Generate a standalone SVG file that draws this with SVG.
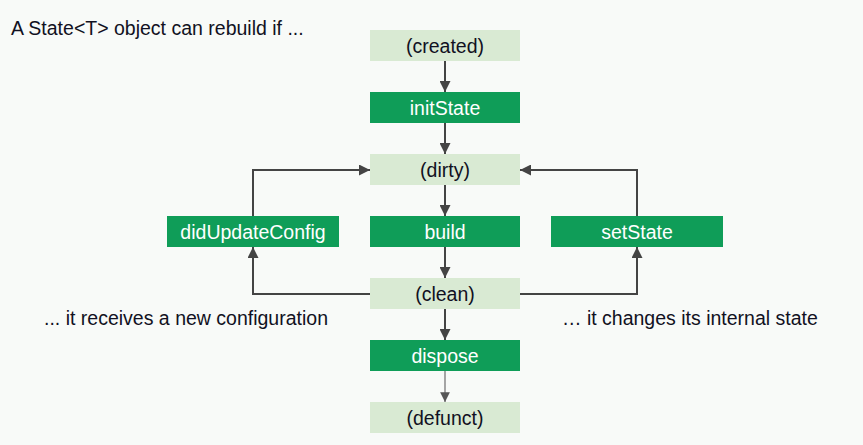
<svg xmlns="http://www.w3.org/2000/svg" width="863" height="445" viewBox="0 0 863 445">
<style>
  .bg { fill: #f8faf8; }
  .state rect { fill: #d9ead3; }
  .state text { fill: #111122; }
  .method rect { fill: #0f9d58; }
  .method text { fill: #ffffff; }
  text { font-family: "Liberation Sans", Arial, sans-serif; font-size: 19.5px; }
  .node text { text-anchor: middle; }
  .conn { fill: none; stroke: #444444; stroke-width: 2; }
  .conn.thin { stroke: #777777; stroke-width: 1.3; }
  .note { fill: #111122; }
</style>
<defs>
  <marker id="arr" viewBox="0 0 10 10" refX="10" refY="5" markerWidth="5.5" markerHeight="5.5" orient="auto" markerUnits="strokeWidth">
    <path d="M0,0 L10,5 L0,10 z" fill="#444444"/>
  </marker>
  <marker id="arrT" viewBox="0 0 10 10" refX="10" refY="5" markerWidth="7.5" markerHeight="7.5" orient="auto" markerUnits="strokeWidth">
    <path d="M0,0 L10,5 L0,10 z" fill="#555555"/>
  </marker>
</defs>
<rect class="bg" x="0" y="0" width="863" height="445"/>

<text class="note" x="11" y="35">A State&lt;T&gt; object can rebuild if ...</text>
<text class="note" x="44" y="325">... it receives a new configuration</text>
<text class="note" x="562" y="325">… it changes its internal state</text>

<g id="connectors">
  <line class="conn" x1="445" y1="61" x2="445" y2="92" marker-end="url(#arr)"/>
  <line class="conn" x1="445" y1="123" x2="445" y2="154" marker-end="url(#arr)"/>
  <line class="conn" x1="445" y1="185" x2="445" y2="216" marker-end="url(#arr)"/>
  <line class="conn" x1="445" y1="247" x2="445" y2="278" marker-end="url(#arr)"/>
  <line class="conn" x1="445" y1="309" x2="445" y2="340" marker-end="url(#arr)"/>
  <line class="conn thin" x1="445" y1="371" x2="445" y2="402" marker-end="url(#arrT)"/>
  <polyline class="conn" points="253,216 253,170 370,170" marker-end="url(#arr)"/>
  <polyline class="conn" points="370,294 253,294 253,247" marker-end="url(#arr)"/>
  <polyline class="conn" points="637,216 637,170 520,170" marker-end="url(#arr)"/>
  <polyline class="conn" points="520,294 637,294 637,247" marker-end="url(#arr)"/>
</g>

<g id="created" class="node state"><rect x="370" y="30" width="150" height="31"/><text x="445" y="53">(created)</text></g>
<g id="initState" class="node method"><rect x="370" y="92" width="150" height="31"/><text x="445" y="115">initState</text></g>
<g id="dirty" class="node state"><rect x="370" y="154" width="150" height="31"/><text x="445" y="177">(dirty)</text></g>
<g id="didUpdateConfig" class="node method"><rect x="167" y="216" width="172" height="31"/><text x="253" y="239">didUpdateConfig</text></g>
<g id="build" class="node method"><rect x="370" y="216" width="150" height="31"/><text x="445" y="239">build</text></g>
<g id="setState" class="node method"><rect x="551" y="216" width="172" height="31"/><text x="637" y="239">setState</text></g>
<g id="clean" class="node state"><rect x="370" y="278" width="150" height="31"/><text x="445" y="301">(clean)</text></g>
<g id="dispose" class="node method"><rect x="370" y="340" width="150" height="31"/><text x="445" y="363">dispose</text></g>
<g id="defunct" class="node state"><rect x="370" y="402" width="150" height="31"/><text x="445" y="425">(defunct)</text></g>
</svg>
